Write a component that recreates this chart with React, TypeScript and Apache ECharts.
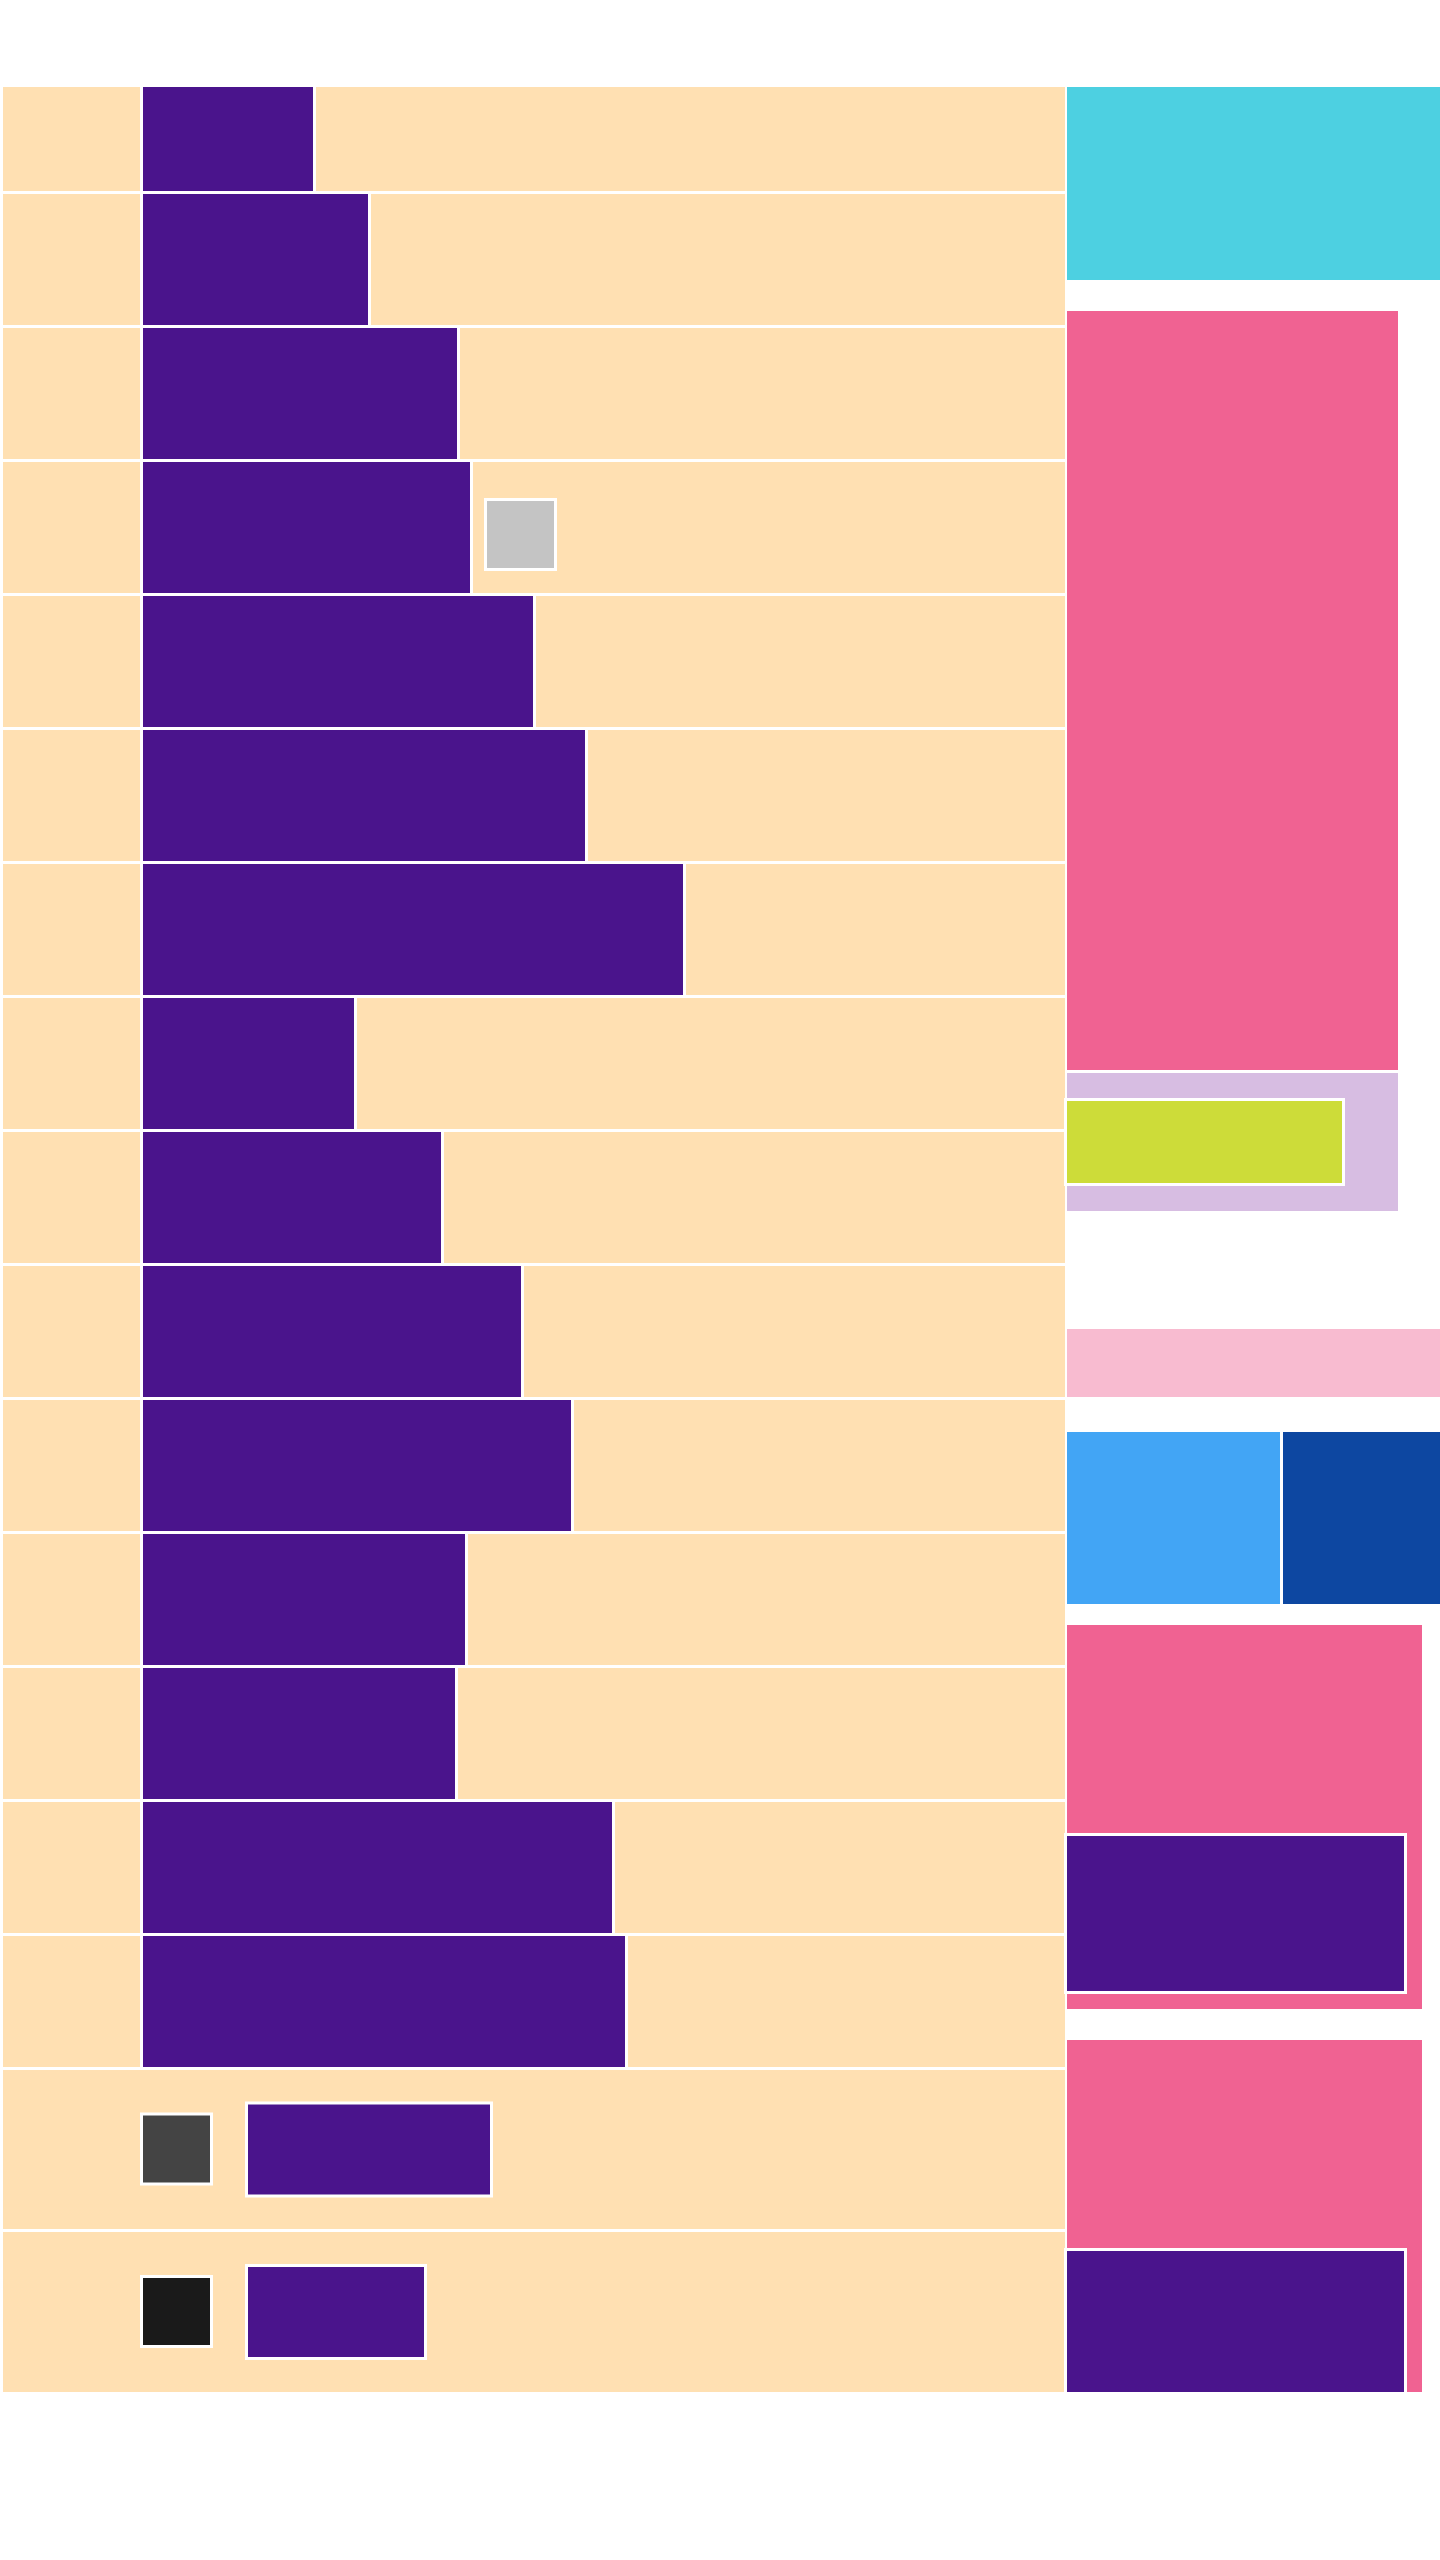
import React, { useEffect, useRef } from "react";
import * as echarts from "echarts";

// ---- data ----
// purple bar end values for the 15 plain rows (value axis units)
const barEnds = [313, 368, 457, 470, 533, 585, 683, 354, 441, 521, 571, 465, 455, 612, 625];
// lower two rows: inner purple bar ends
const lowerBarEnds = [490, 424];
const lowerSwatchColors = ["#444444", "#1A1A1A"];

// right column blocks: [x0, y0, x1, y1]
const rightBlocks = [
  { name: "cyan", v: [1067, 87, 1440, 280], color: "#4DD0E1" },
  { name: "pinkA", v: [1067, 311, 1398, 1070], color: "#F06292" },
  { name: "lavender", v: [1067, 1073, 1398, 1211], color: "#D7BDE2" },
  { name: "lime", v: [1067, 1101, 1342, 1183], color: "#CDDC39", frame: true },
  { name: "lightpink", v: [1067, 1329, 1440, 1397], color: "#F8BBD0" },
  { name: "blue", v: [1067, 1432, 1280, 1604], color: "#42A5F5" },
  { name: "darkblue", v: [1283, 1432, 1440, 1604], color: "#0D47A1" },
  { name: "pinkB", v: [1067, 1625, 1422, 2009], color: "#F06292" },
  { name: "purpleB", v: [1067, 1836, 1404, 1991], color: "#4A148C", frame: true },
  { name: "pinkC", v: [1067, 2040, 1422, 2392], color: "#F06292" },
  { name: "purpleC", v: [1067, 2251, 1404, 2392], color: "#4A148C", frame: true },
];

// ---- layout ----
const rowTops = [87, 194, 328, 462, 596, 730, 864, 998, 1132, 1266, 1400, 1534, 1668, 1802, 1936];
const rowBottoms = [191, 325, 459, 593, 727, 861, 995, 1129, 1263, 1397, 1531, 1665, 1799, 1933, 2067];
const lowerTops = [2070, 2232];
const lowerBottoms = [2229, 2392];
const PEACH = "#FFE0B2";
const PURPLE = "#4A148C";

export default function App() {
  const ref = useRef<HTMLDivElement>(null);
  useEffect(() => {
    if (!ref.current) return;
    const chart = echarts.init(ref.current, null, { renderer: "svg" });

    const mk = (api: any, x0: number, y0: number, x1: number, y1: number, fill: string, frame?: boolean) => {
      const e = frame ? 1.5 : 0;
      const p0 = api.coord([x0 - e, y0 - e]);
      const p1 = api.coord([x1 + e, y1 + e]);
      return {
        type: "rect",
        shape: { x: p0[0], y: p0[1], width: p1[0] - p0[0], height: p1[1] - p0[1] },
        style: frame ? { fill, stroke: "#FFFFFF", lineWidth: 3 } : { fill },
      };
    };

    const option: any = {
      animation: false,
      backgroundColor: "#FFFFFF",
      grid: { left: 0, right: 0, top: 0, bottom: 0 },
      xAxis: { type: "value", min: 0, max: 1440, show: false },
      yAxis: { type: "value", min: 0, max: 2560, inverse: true, show: false },
      series: [
        {
          type: "custom",
          name: "rows",
          data: barEnds.map((v, i) => [i, v]),
          renderItem: (params: any, api: any) => {
            const i = api.value(0);
            const end = api.value(1);
            const t = rowTops[i];
            const b = rowBottoms[i];
            const sw = i === 3;
            const children: any[] = [
              mk(api, 3, t, 140, b, PEACH),
              mk(api, 143, t, end, b, PURPLE),
              mk(api, end + 3, t, 1065, b, PEACH),
            ];
            if (sw) children.push(mk(api, 487, 501, 554, 568, "#C4C4C4", true));
            return { type: "group", children };
          },
        },
        {
          type: "custom",
          name: "lowerRows",
          data: lowerBarEnds.map((v, i) => [i, v]),
          renderItem: (params: any, api: any) => {
            const i = api.value(0);
            const end = api.value(1);
            const t = lowerTops[i];
            const b = lowerBottoms[i];
            const mid = (t + b) / 2;
            return {
              type: "group",
              children: [
                mk(api, 3, t, 1065, b, PEACH),
                mk(api, 143, mid - 34, 210, mid + 33, lowerSwatchColors[i], true),
                mk(api, 248, mid - 45, end, mid + 45, PURPLE, true),
              ],
            };
          },
        },
        {
          type: "custom",
          name: "right",
          data: rightBlocks.map((r) => r.v),
          renderItem: (params: any, api: any) => {
            const r = rightBlocks[params.dataIndex];
            return mk(api, api.value(0), api.value(1), api.value(2), api.value(3), r.color, !!r.frame);
          },
        },
      ],
    };
    chart.setOption(option);
    return () => chart.dispose();
  }, []);
  return (
    <div
      ref={ref}
      style={{ position: "absolute", left: 0, top: 0, width: 1440, height: 2560, background: "#FFFFFF" }}
    />
  );
}
